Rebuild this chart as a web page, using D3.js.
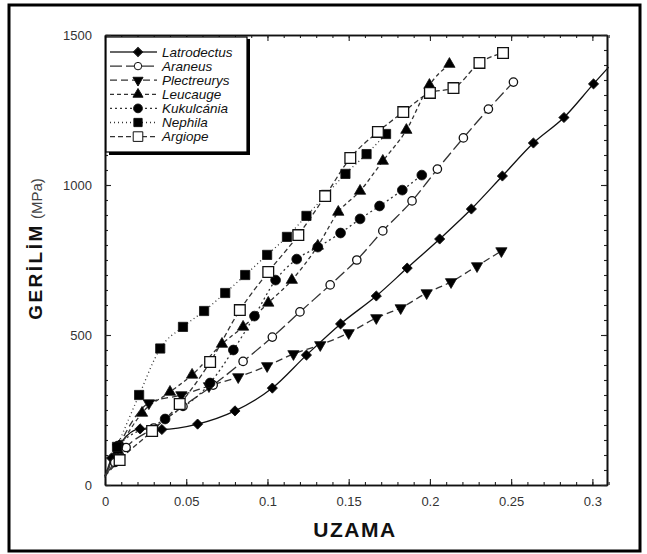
<!DOCTYPE html>
<html>
<head>
<meta charset="utf-8">
<script src="https://cdn.jsdelivr.net/npm/d3@7"></script>
<style>
    body { margin: 0; background: #fff; }
    svg { display: block; }
</style>
</head>
<body>
<div id="chart"></div>
<script>
// values: [strain, stress MPa]
var latrodectus = [[0, 25], [0.004, 90], [0.009, 135], [0.0216, 187], [0.035, 185], [0.057, 203], [0.080, 247], [0.103, 323], [0.124, 433], [0.145, 537], [0.167, 630], [0.186, 723], [0.206, 820], [0.2255, 920], [0.2446, 1030], [0.2637, 1140], [0.2825, 1225], [0.3007, 1337], [0.31, 1393]];
var araneus = [[0, 30], [0.006, 75], [0.013, 125], [0.03, 190], [0.048, 262], [0.0666, 333], [0.085, 412], [0.103, 493], [0.120, 577], [0.1386, 667], [0.155, 750], [0.171, 847], [0.189, 947], [0.2046, 1053], [0.2206, 1157], [0.236, 1253], [0.2514, 1343]];
var plectreurys = [[0, 30], [0.008, 125], [0.027, 273], [0.047, 300], [0.064, 330], [0.082, 360], [0.0998, 397], [0.116, 437], [0.1325, 467], [0.150, 507], [0.167, 557], [0.182, 590], [0.198, 640], [0.213, 677], [0.229, 730], [0.244, 780]];
var leucauge = [[0, 30], [0.008, 115], [0.0228, 240], [0.040, 310], [0.0536, 367], [0.072, 470], [0.085, 527], [0.1005, 607], [0.115, 683], [0.131, 797], [0.1436, 910], [0.157, 980], [0.171, 1080], [0.1855, 1183], [0.1997, 1333], [0.212, 1403]];
var kukulcania = [[0, 30], [0.008, 130], [0.037, 220], [0.0647, 340], [0.079, 450], [0.092, 563], [0.105, 683], [0.118, 753], [0.131, 793], [0.145, 840], [0.157, 887], [0.169, 930], [0.183, 983], [0.195, 1033]];
var nephila = [[0, 30], [0.0074, 127], [0.021, 300], [0.034, 455], [0.048, 527], [0.061, 580], [0.074, 640], [0.0863, 700], [0.0998, 767], [0.112, 827], [0.124, 897], [0.136, 967], [0.148, 1037], [0.161, 1103], [0.173, 1170]];
var argiope = [[0, 30], [0.009, 83], [0.029, 180], [0.046, 270], [0.0647, 410], [0.083, 583], [0.1005, 710], [0.119, 833], [0.1355, 963], [0.151, 1090], [0.168, 1177], [0.1836, 1243], [0.200, 1307], [0.2145, 1323], [0.2305, 1407], [0.245, 1440]];

var names = ["Latrodectus", "Araneus", "Plectreurys", "Leucauge", "Kukulcánia", "Nephila", "Argiope"];
var xTicks = [0, 0.05, 0.1, 0.15, 0.2, 0.25, 0.3];
var yTicks = [0, 500, 1000, 1500];

function init() {
    var w = 647;
    var h = 554;

    var series = [
        { name: names[0], data: latrodectus, dash: null, symbol: d3.symbolSquare, size: 52, fill: "#000", rot: 45 },
        { name: names[1], data: araneus, dash: "12,4", symbol: d3.symbolCircle, size: 55, fill: "#fff", rot: 0 },
        { name: names[2], data: plectreurys, dash: "7,4", symbol: d3.symbolTriangle, size: 55, fill: "#000", rot: 180 },
        { name: names[3], data: leucauge, dash: "4,3", symbol: d3.symbolTriangle, size: 55, fill: "#000", rot: 0 },
        { name: names[4], data: kukulcania, dash: "2,3", symbol: d3.symbolCircle, size: 75, fill: "#000", rot: 0 },
        { name: names[5], data: nephila, dash: "1,3", symbol: d3.symbolSquare, size: 85, fill: "#000", rot: 0 },
        { name: names[6], data: argiope, dash: "5,3", symbol: d3.symbolSquare, size: 115, fill: "#fff", rot: 0 }
    ];

    var x = d3.scaleLinear().domain([0, 0.309]).range([105, 607]);
    var y = d3.scaleLinear().domain([0, 1500]).range([485, 35]);

    var svg = d3.select("#chart")
        .append("svg")
        .attr("width", w)
        .attr("height", h);

    // outer frame
    svg.append("rect")
        .attr("x", 9)
        .attr("y", 5)
        .attr("width", 631)
        .attr("height", 546)
        .attr("fill", "none")
        .attr("stroke", "#000")
        .attr("stroke-width", 3);

    // axes, ticks pointing inward
    var fmtX = function (d) { return d === 0 ? "0" : String(d); };
    var fmtY = d3.format("d");
    var minorX = d3.range(0, 0.3101, 0.01);
    var minorY = d3.range(0, 1501, 50);

    function styleAxis(g) {
        g.select(".domain").attr("stroke", "#111").attr("stroke-width", 1.6);
        g.selectAll(".tick line").attr("stroke", "#222").attr("stroke-width", 1.1);
        g.selectAll("text")
            .attr("font-family", "Liberation Sans, Arial, sans-serif")
            .attr("font-size", "13px")
            .attr("fill", "#333");
    }

    svg.append("g")
        .attr("transform", "translate(0,485)")
        .call(d3.axisBottom(x).tickValues(minorX).tickSize(-3).tickSizeOuter(0).tickFormat(""))
        .call(styleAxis);
    svg.append("g")
        .attr("transform", "translate(0,485)")
        .call(d3.axisBottom(x).tickValues(xTicks).tickSize(-6).tickSizeOuter(0).tickPadding(12).tickFormat(fmtX))
        .call(styleAxis);
    svg.append("g")
        .attr("transform", "translate(0,35)")
        .call(d3.axisTop(x).tickValues(minorX).tickSize(-3).tickSizeOuter(0).tickFormat(""))
        .call(styleAxis);
    svg.append("g")
        .attr("transform", "translate(0,35)")
        .call(d3.axisTop(x).tickValues(xTicks).tickSize(-6).tickSizeOuter(0).tickFormat(""))
        .call(styleAxis);

    svg.append("g")
        .attr("transform", "translate(105,0)")
        .call(d3.axisLeft(y).tickValues(minorY).tickSize(-3).tickSizeOuter(0).tickFormat(""))
        .call(styleAxis);
    svg.append("g")
        .attr("transform", "translate(105,0)")
        .call(d3.axisLeft(y).tickValues(yTicks).tickSize(-6).tickSizeOuter(0).tickPadding(13).tickFormat(fmtY))
        .call(styleAxis);
    svg.append("g")
        .attr("transform", "translate(607,0)")
        .call(d3.axisRight(y).tickValues(minorY).tickSize(-3).tickSizeOuter(0).tickFormat(""))
        .call(styleAxis);
    svg.append("g")
        .attr("transform", "translate(607,0)")
        .call(d3.axisRight(y).tickValues(yTicks).tickSize(-6).tickSizeOuter(0).tickFormat(""))
        .call(styleAxis);

    // axis titles
    svg.append("text")
        .attr("x", 355)
        .attr("y", 537)
        .attr("text-anchor", "middle")
        .attr("font-family", "Liberation Sans, Arial, sans-serif")
        .attr("font-weight", "bold")
        .attr("font-size", "21px")
        .attr("letter-spacing", "1.5px")
        .attr("fill", "#111")
        .text("UZAMA");

    var yt = svg.append("text")
        .attr("transform", "translate(42,249) rotate(-90)")
        .attr("text-anchor", "middle")
        .attr("font-family", "Liberation Sans, Arial, sans-serif")
        .attr("fill", "#111");
    yt.append("tspan")
        .attr("font-weight", "bold")
        .attr("font-size", "19px")
        .attr("letter-spacing", "2.5px")
        .text("GERİLİM");
    yt.append("tspan")
        .attr("font-size", "15px")
        .attr("fill", "#444")
        .text(" (MPa)");

    // curves
    var line = d3.line()
        .x(function (d) { return x(d[0]); })
        .y(function (d) { return y(d[1]); })
        .curve(d3.curveMonotoneX);

    svg.selectAll(".curve")
        .data(series)
        .enter()
        .append("path")
        .attr("class", "curve")
        .attr("d", function (d) { return line(d.data); })
        .attr("fill", "none")
        .attr("stroke", function (d) { return d.dash ? "#333" : "#111"; })
        .attr("stroke-width", 1.3)
        .attr("stroke-dasharray", function (d) { return d.dash; });

    // markers
    series.forEach(function (s) {
        var pts = s.data.filter(function (d) { return d[0] > 0 && d[0] < 0.305; });
        svg.append("g")
            .selectAll("path")
            .data(pts)
            .enter()
            .append("path")
            .attr("d", d3.symbol().type(s.symbol).size(s.size))
            .attr("transform", function (d) {
                return "translate(" + x(d[0]) + "," + y(d[1]) + ") rotate(" + s.rot + ")";
            })
            .attr("fill", s.fill)
            .attr("stroke", "#111")
            .attr("stroke-width", s.fill === "#fff" ? 1.3 : 0.8);
    });

    // legend
    var lg = svg.append("g");
    lg.append("rect")
        .attr("x", 109)
        .attr("y", 39)
        .attr("width", 141)
        .attr("height", 116)
        .attr("fill", "#000");
    lg.append("rect")
        .attr("x", 106)
        .attr("y", 37)
        .attr("width", 141)
        .attr("height", 115)
        .attr("fill", "#fff")
        .attr("stroke", "#000")
        .attr("stroke-width", 1.2);

    var rows = lg.selectAll(".row")
        .data(series)
        .enter()
        .append("g")
        .attr("class", "row")
        .attr("transform", function (d, i) { return "translate(0," + (52 + i * 14.1) + ")"; });

    rows.append("line")
        .attr("x1", 110)
        .attr("x2", 157)
        .attr("y1", 0)
        .attr("y2", 0)
        .attr("stroke", "#333")
        .attr("stroke-width", 1.3)
        .attr("stroke-dasharray", function (d) { return d.dash; });

    rows.append("path")
        .attr("d", function (d) { return d3.symbol().type(d.symbol).size(d.size * 0.8)(); })
        .attr("transform", function (d) { return "translate(138,0) rotate(" + d.rot + ")"; })
        .attr("fill", function (d) { return d.fill; })
        .attr("stroke", "#111")
        .attr("stroke-width", 1);

    rows.append("text")
        .attr("x", 162)
        .attr("y", 4.5)
        .attr("font-family", "Liberation Sans, Arial, sans-serif")
        .attr("font-style", "italic")
        .attr("font-size", "13.5px")
        .attr("fill", "#111")
        .text(function (d) { return d.name; });
}

window.onload = init;
</script>
</body>
</html>
